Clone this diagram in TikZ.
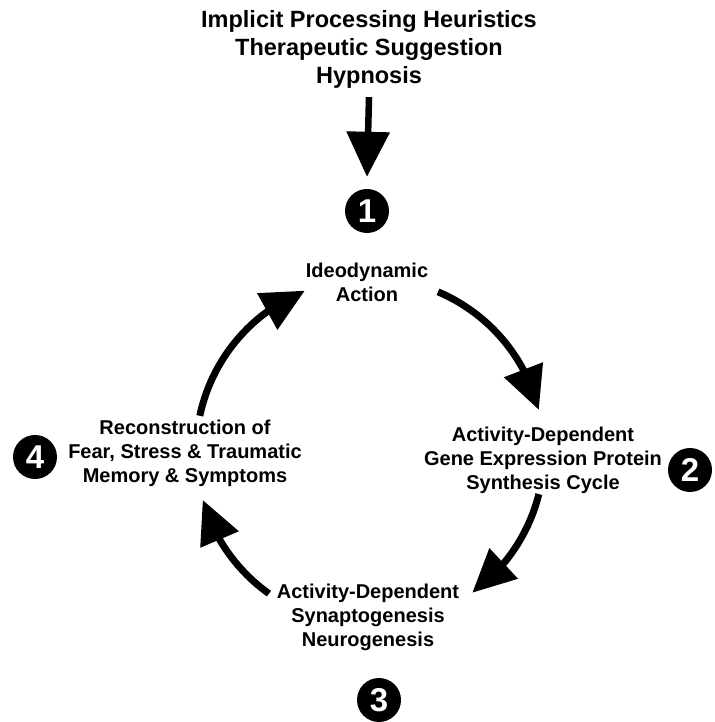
\documentclass[tikz,border=0pt]{standalone}
\usepackage{fontspec}
\setmainfont{Liberation Sans}
\usetikzlibrary{arrows.meta,bending,calc}
\begin{document}
\begin{tikzpicture}[x=1pt,y=1pt,
  lbl/.style={font=\bfseries\fontsize{20}{24}\selectfont, align=center, inner sep=0pt},
  toplbl/.style={font=\bfseries\fontsize{23.5}{28}\selectfont, align=center, inner sep=0pt},
  num/.style={circle, fill=black, text=white, minimum size=44pt, inner sep=0pt, font=\bfseries\fontsize{33}{33}\selectfont},
  cyc/.style={line width=7pt, -{Triangle[length=43pt,width=40pt,flex]}},
  feed/.style={line width=6.5pt, -{Triangle[length=45pt,width=42pt]}},
]
\useasboundingbox (0,0) rectangle (714,722);

\node[toplbl] (top) at (369,673) {Implicit Processing Heuristics\\Therapeutic Suggestion\\Hypnosis};

\node[num] (n1) at (367,511) {1};
\node[num] (n2) at (690,252) {2};
\node[num] (n3) at (379,22) {3};
\node[num] (n4) at (35,265) {4};

\node[lbl] (b1) at (367,440) {Ideodynamic\\Action};
\node[lbl] (b2) at (543,262) {Activity-Dependent\\Gene Expression Protein\\Synthesis Cycle};
\node[lbl] (b3) at (368,105) {Activity-Dependent\\Synaptogenesis\\Neurogenesis};
\node[lbl] (b4) at (185,269) {Reconstruction of\\Fear, Stress \& Traumatic\\Memory \& Symptoms};

\draw[feed] ([yshift=-9pt]top.south) -- ([yshift=12pt]n1.north);

\coordinate (C) at (370,270);
\coordinate (s1) at ($(C)+(67:174)$);
\coordinate (s2) at ($(C)+(-14:174)$);
\coordinate (s3) at ($(C)+(234.5:174)$);
\coordinate (s4) at ($(C)+(168:174)$);

\draw[cyc] (s1) arc[start angle=67, end angle=14, radius=174];
\draw[cyc] (s2) arc[start angle=-14, end angle=-54, radius=174];
\draw[cyc] (s3) arc[start angle=234.5, end angle=196, radius=174];
\draw[cyc] (s4) arc[start angle=168, end angle=112, radius=174];
\end{tikzpicture}
\end{document}
